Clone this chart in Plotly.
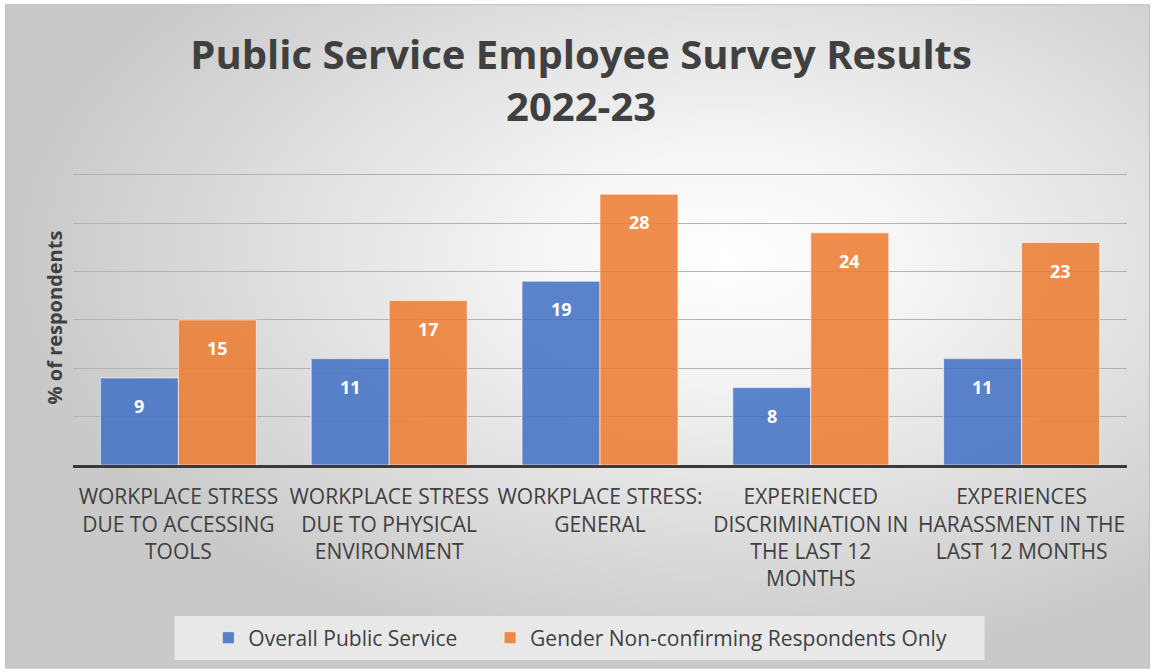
import base64
import plotly.graph_objects as go

categories = [
    "WORKPLACE STRESS<br>DUE TO ACCESSING<br>TOOLS",
    "WORKPLACE STRESS<br>DUE TO PHYSICAL<br>ENVIRONMENT",
    "WORKPLACE STRESS:<br>GENERAL",
    "EXPERIENCED<br>DISCRIMINATION IN<br>THE LAST 12<br>MONTHS",
    "EXPERIENCES<br>HARASSMENT IN THE<br>LAST 12 MONTHS",
]
overall = [9, 11, 19, 8, 11]
gender_nc = [15, 17, 28, 24, 23]
series_names = ["Overall Public Service", "Gender Non-confirming Respondents Only"]

BLUE = "rgba(68,114,196,0.87)"
ORANGE = "rgba(237,125,49,0.87)"
TEXT = "#404040"
FONT = "Open Sans"

YMAX = 30.5
PX_PER_UNIT = 290.0 / 30.0
PLOT_BOTTOM = 465.0
PLOT_TOP = PLOT_BOTTOM - PX_PER_UNIT * YMAX
PLOT_LEFT, PLOT_RIGHT = 72.5, 1127.5

svg = """<svg xmlns='http://www.w3.org/2000/svg' width='1000' height='600' preserveAspectRatio='none'>
<defs><radialGradient id='g' cx='0.63' cy='0.38' r='0.62' fx='0.63' fy='0.38'>
<stop offset='0' stop-color='#ffffff'/>
<stop offset='0.25' stop-color='#f6f6f6'/>
<stop offset='1' stop-color='#c9c9c9'/>
</radialGradient></defs>
<rect width='1000' height='600' fill='url(#g)'/></svg>"""
bg_src = "data:image/svg+xml;base64," + base64.b64encode(svg.encode()).decode()

fig = go.Figure()
fig.add_trace(go.Bar(x=categories, y=overall, name=series_names[0], legend="legend",
                     marker=dict(color=BLUE, line=dict(color="rgba(255,255,255,0.6)", width=1))))
fig.add_trace(go.Bar(x=categories, y=gender_nc, name=series_names[1], legend="legend2",
                     marker=dict(color=ORANGE, line=dict(color="rgba(255,255,255,0.6)", width=1))))

annotations = []
for cat, v in zip(categories, overall):
    annotations.append(dict(x=cat, y=v, xref="x", yref="y", text=f"<b>{v}</b>", showarrow=False,
                            xshift=-39, yshift=-28, font=dict(color="white", size=18, family=FONT)))
for cat, v in zip(categories, gender_nc):
    annotations.append(dict(x=cat, y=v, xref="x", yref="y", text=f"<b>{v}</b>", showarrow=False,
                            xshift=39, yshift=-28, font=dict(color="white", size=18, family=FONT)))

def px_x(p):
    return (p - PLOT_LEFT) / (PLOT_RIGHT - PLOT_LEFT)

def px_y(p):
    return (PLOT_BOTTOM - p) / (PLOT_BOTTOM - PLOT_TOP)

legend_style = dict(orientation="h", xanchor="left", y=px_y(638), yanchor="middle",
                    bgcolor="rgba(0,0,0,0)", font=dict(size=21, color=TEXT, family=FONT))

fig.update_layout(
    width=1153, height=672,
    margin=dict(l=PLOT_LEFT, r=1153 - PLOT_RIGHT, t=PLOT_TOP, b=672 - PLOT_BOTTOM),
    paper_bgcolor="white",
    plot_bgcolor="rgba(0,0,0,0)",
    barmode="group", bargap=0.26, bargroupgap=0.0,
    title=dict(text="<b>Public Service Employee Survey Results<br>2022-23</b>",
               x=0.504, xref="container", xanchor="center",
               y=0.897, yref="container", yanchor="top",
               font=dict(family=FONT, size=40, color=TEXT)),
    font=dict(family=FONT, color=TEXT),
    xaxis=dict(showline=True, linecolor="#3a3a3a", linewidth=3, ticks="",
               tickfont=dict(size=21, color=TEXT, family=FONT), showgrid=False,
               ticklabelstandoff=11),
    yaxis=dict(range=[0, YMAX], dtick=5, showticklabels=False, ticks="",
               showgrid=True, gridcolor="#b3b3b3", gridwidth=1, zeroline=False,
               title=dict(text="<b>% of respondents</b>", standoff=4,
                          font=dict(size=20, color=TEXT, family=FONT))),
    showlegend=True,
    legend=dict(x=px_x(208), **legend_style),
    legend2=dict(x=px_x(490), **legend_style),
    annotations=annotations,
    images=[dict(source=bg_src, xref="paper", yref="paper",
                 x=px_x(5), y=px_y(5), sizex=px_x(1150) - px_x(5), sizey=px_y(5) - px_y(668),
                 xanchor="left", yanchor="top", sizing="stretch", layer="below")],
    shapes=[
        dict(type="rect", xref="paper", yref="paper", x0=px_x(5), x1=px_x(1150), y0=px_y(668), y1=px_y(5),
             line=dict(color="#bdbdbd", width=1), fillcolor="rgba(0,0,0,0)", layer="below"),
        dict(type="rect", xref="paper", yref="paper", x0=px_x(174), x1=px_x(985), y0=px_y(660), y1=px_y(616),
             line=dict(width=0), fillcolor="rgba(242,242,242,0.75)", layer="below"),
    ],
)

fig.write_html("out.html")
